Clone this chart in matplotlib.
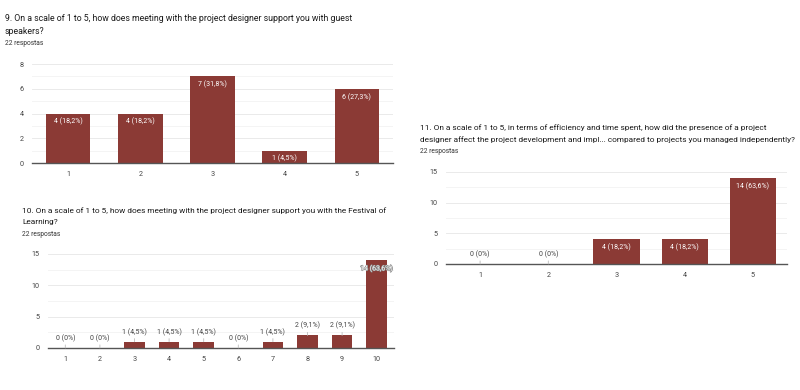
import matplotlib
matplotlib.use('Agg')
import matplotlib.pyplot as plt
import matplotlib.patheffects as pe
import numpy as np

plt.rcParams['font.family'] = ['Roboto', 'DejaVu Sans']

# question 9
q9_title = '9. On a scale of 1 to 5, how does meeting with the project designer support you with guest\nspeakers?'
q9_cats = ['1', '2', '3', '4', '5']
q9_counts = [4, 4, 7, 1, 6]
q9_pcts = ['18,2%', '18,2%', '31,8%', '4,5%', '27,3%']

# question 10
q10_title = '10. On a scale of 1 to 5, how does meeting with the project designer support you with the Festival of\nLearning?'
q10_cats = ['1', '2', '3', '4', '5', '6', '7', '8', '9', '10']
q10_counts = [0, 0, 1, 1, 1, 0, 1, 2, 2, 14]
q10_pcts = ['0%', '0%', '4,5%', '4,5%', '4,5%', '0%', '4,5%', '9,1%', '9,1%', '63,6%']

# question 11
q11_title = ('11. On a scale of 1 to 5, in terms of efficiency and time spent, how did the presence of a project\n'
             'designer affect the project development and impl... compared to projects you managed independently?')
q11_cats = ['1', '2', '3', '4', '5']
q11_counts = [0, 0, 4, 4, 14]
q11_pcts = ['0%', '0%', '18,2%', '18,2%', '63,6%']

responses = '22 respostas'

BAR = '#8b3a35'
W, H = 800, 390


def px_axes(fig, x0, x1, ytop, ybot):
    return fig.add_axes([x0 / W, 1 - ybot / H, (x1 - x0) / W, (ybot - ytop) / H])


def draw(ax, cats, counts, pcts, ymax, major, bar_w):
    x = np.arange(1, len(cats) + 1)
    ax.bar(x, counts, width=bar_w, color=BAR, zorder=3)
    ax.set_xlim(0.5, len(cats) + 0.5)
    ax.set_ylim(0, ymax)
    ax.set_yticks(np.arange(0, ymax + 0.1, major))
    ax.set_yticks(np.arange(major / 2, ymax, major), minor=True)
    ax.set_xticks(x)
    ax.set_xticklabels(cats)
    ax.grid(axis='y', which='major', color='#e6e6e6', lw=0.6, zorder=0)
    ax.grid(axis='y', which='minor', color='#f2f2f2', lw=0.6, zorder=0)
    for s in ['top', 'right', 'left']:
        ax.spines[s].set_visible(False)
    ax.spines['bottom'].set_color('#555555')
    ax.spines['bottom'].set_linewidth(1.0)
    ax.spines['bottom'].set_zorder(4)
    ax.tick_params(axis='both', which='both', length=0, labelsize=5.2, colors='#444444')
    ax.tick_params(axis='x', pad=6)
    ax.tick_params(axis='y', pad=6)

    bb = ax.get_position()
    h_px = bb.height * H
    w_px = bb.width * W
    bw_px = bar_w / len(cats) * w_px
    for xi, c, p in zip(x, counts, pcts):
        label = '{} ({})'.format(c, p)
        hp = c / ymax * h_px
        if hp >= 11 and (bw_px >= 28 or hp >= 40):
            t = ax.annotate(label, (xi, c), xytext=(0, -6), textcoords='offset points',
                            ha='center', va='center', fontsize=5, color='white', zorder=5)
            if bw_px < 28:
                # label wider than the bar spills onto the white background
                t.set_path_effects([pe.withStroke(linewidth=0.9, foreground='#8a8a8a')])
        else:
            ax.annotate(label, (xi, c), xytext=(0, 7), textcoords='offset points',
                        ha='center', va='center', fontsize=5, color='#444444', zorder=5,
                        arrowprops=dict(arrowstyle='-', color='#bbbbbb', lw=0.6,
                                        shrinkA=3, shrinkB=0))


def header(fig, x, y, title, size, spacing, gap):
    fig.text(x / W, 1 - y / H, title, fontsize=size, color='#1a1a1a', va='top', ha='left',
             linespacing=spacing)
    fig.text(x / W, 1 - (y + gap) / H, responses, fontsize=4.8, color='#333333', va='top', ha='left')


fig = plt.figure(figsize=(8, 3.9), dpi=100)

header(fig, 5, 14, q9_title, 6.3, 1.6, 26)
ax9 = px_axes(fig, 32, 393, 64, 163)
draw(ax9, q9_cats, q9_counts, q9_pcts, 8, 2, 0.62)

header(fig, 22, 207, q10_title, 5.95, 1.95, 24)
ax10 = px_axes(fig, 48, 394, 254, 348)
draw(ax10, q10_cats, q10_counts, q10_pcts, 15, 5, 0.6)

header(fig, 420, 124, q11_title, 5.95, 1.9, 24)
ax11 = px_axes(fig, 446, 787, 172, 264)
draw(ax11, q11_cats, q11_counts, q11_pcts, 15, 5, 0.68)

fig.savefig('out.png', dpi=100)
